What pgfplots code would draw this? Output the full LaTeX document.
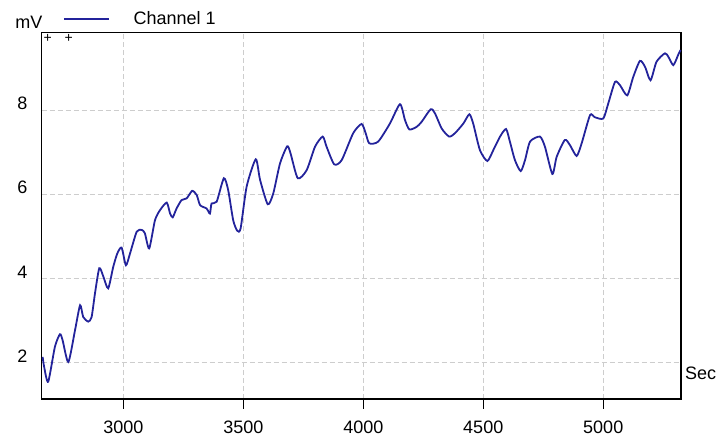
\documentclass[border=0pt]{standalone}
\usepackage{fontspec}
\setmainfont{Liberation Sans}
\usepackage{pgfplots}
\usepackage{pgfplotstable}
\pgfplotsset{compat=1.18}

\definecolor{chan}{RGB}{35,35,155}
\definecolor{gridc}{RGB}{205,205,205}

\pgfplotstableread{
x y
2664 2.13
2670 1.90
2687 1.54
2715 2.37
2736 2.67
2747 2.53
2771 2.01
2799 2.77
2820 3.36
2833 3.08
2854 2.97
2868 3.08
2882 3.64
2900 4.24
2917 4.04
2937 3.76
2958 4.27
2975 4.59
2993 4.73
3011 4.31
3028 4.59
3056 5.11
3077 5.15
3090 5.07
3108 4.71
3132 5.38
3153 5.62
3181 5.80
3195 5.54
3206 5.45
3222 5.66
3243 5.86
3264 5.90
3287 6.08
3306 5.98
3320 5.74
3347 5.66
3361 5.54
3368 5.78
3389 5.82
3419 6.38
3437 6.10
3458 5.38
3475 5.13
3489 5.19
3514 6.18
3552 6.83
3570 6.34
3602 5.76
3625 6.02
3653 6.73
3683 7.14
3697 6.97
3727 6.38
3764 6.57
3799 7.13
3831 7.37
3847 7.13
3879 6.71
3910 6.81
3958 7.45
3993 7.67
4010 7.45
4025 7.21
4062 7.25
4111 7.68
4153 8.14
4174 7.76
4192 7.54
4222 7.60
4243 7.72
4281 8.02
4299 7.92
4327 7.56
4358 7.37
4382 7.45
4417 7.68
4442 7.90
4458 7.68
4486 7.05
4517 6.79
4542 7.05
4570 7.37
4595 7.55
4611 7.25
4632 6.81
4656 6.55
4674 6.81
4695 7.25
4736 7.37
4757 7.13
4788 6.48
4806 6.89
4840 7.29
4861 7.17
4889 6.91
4910 7.21
4945 7.88
4965 7.83
5000 7.80
5021 8.16
5049 8.67
5070 8.59
5100 8.35
5125 8.79
5153 9.17
5174 9.03
5197 8.71
5222 9.15
5257 9.35
5271 9.27
5292 9.07
5312 9.31
5322 9.43
}\channelone

\begin{document}
\begin{tikzpicture}
\begin{axis}[
  at={(0pt,0pt)}, anchor=south west,
  scale only axis,
  width=639.3pt, height=366.7pt,
  xmin=2660, xmax=5324,
  ymin=1.13, ymax=9.85,
  font=\fontsize{18}{20}\selectfont,
  axis line style={black, line width=1.5pt},
  xtick={3000,3500,4000,4500,5000},
  ytick={2,4,6,8},
  xtick pos=left, ytick pos=left,
  tick align=outside,
  major tick length=10pt,
  xtick style={draw=black, solid, line width=1.5pt},
  ytick style={draw=none},
  grid=major,
  major grid style={gridc, line width=0.8pt, dash pattern=on 5pt off 3pt},
  /pgf/number format/assume math mode=true,
  /pgf/number format/1000 sep={},
  xticklabel style={anchor=north, inner sep=0pt, yshift=-12pt},
  yticklabel style={anchor=south east, inner sep=0pt, xshift=-4pt},
  every axis x label/.style={at={(axis description cs:1,0)}, anchor=west, inner sep=0pt, xshift=4pt, yshift=26pt},
  every axis y label/.style={at={(axis description cs:0,1)}, anchor=base east, inner sep=0pt, xshift=1pt, yshift=4pt},
  xlabel={Sec},
  ylabel={mV},
  legend style={draw=none, fill=none, at={(axis description cs:0,1)}, anchor=west,
    xshift=21pt, yshift=13.3pt, inner sep=0pt, column sep=24pt,
    nodes={inner sep=0pt}, font=\fontsize{18}{20}\selectfont},
  legend image code/.code={\draw[#1] (0pt,0pt) -- (45pt,0pt);},
  clip=false,
]
\addplot[chan, line width=1.8pt, smooth, tension=0.4] table {\channelone};
\addlegendentry{Channel 1}
% tick marks below the x axis
\pgfplotsinvokeforeach{3000,3500,4000,4500,5000}{
  \draw[black, line width=1.5pt] (axis cs:#1,1.13) -- ([yshift=-10pt]axis cs:#1,1.13);
}
\node[font=\fontsize{14}{14}\selectfont, inner sep=0pt] at ([xshift=6pt,yshift=-6pt]rel axis cs:0,1) {+};
\node[font=\fontsize{14}{14}\selectfont, inner sep=0pt] at ([xshift=27pt,yshift=-6pt]rel axis cs:0,1) {+};
\end{axis}
\path (-41.7pt,-42pt) rectangle (683.3pt,399pt);
\end{tikzpicture}
\end{document}
